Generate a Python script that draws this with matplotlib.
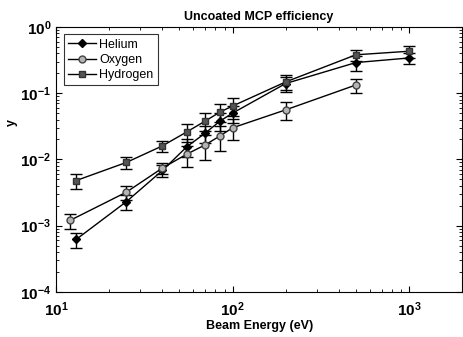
import numpy as np
import matplotlib
matplotlib.use("Agg")
import matplotlib.pyplot as plt

# beam energy (eV) and efficiency values
energy_he = [13, 25, 40, 55, 70, 85, 100, 200, 500, 1000]
eff_he = [0.00062, 0.0023, 0.0068, 0.0155, 0.025, 0.038, 0.050, 0.140, 0.29, 0.34]
err_he = [0.25, 0.25, 0.2, 0.3, 0.3, 0.3, 0.3, 0.25, 0.25, 0.2]

energy_o = [12, 25, 40, 55, 70, 85, 100, 200, 500]
eff_o = [0.0012, 0.0032, 0.0074, 0.012, 0.0166, 0.0227, 0.030, 0.056, 0.133]
err_o = [0.25, 0.25, 0.2, 0.35, 0.4, 0.4, 0.35, 0.3, 0.25]

energy_h = [13, 25, 40, 55, 70, 85, 100, 200, 500, 1000]
eff_h = [0.0048, 0.0090, 0.016, 0.026, 0.038, 0.052, 0.064, 0.148, 0.38, 0.43]
err_h = [0.25, 0.2, 0.2, 0.3, 0.3, 0.3, 0.3, 0.25, 0.2, 0.2]

plt.rcParams['font.family'] = ['Liberation Sans', 'DejaVu Sans']
plt.rcParams['font.weight'] = 'bold'

fig = plt.figure(figsize=(4.64, 3.37), dpi=100)
ax = fig.add_axes([0.121, 0.134, 0.875, 0.786])

series = [
    ("Helium", energy_he, eff_he, err_he, dict(marker='D', ms=4, mfc='black', mec='black')),
    ("Oxygen", energy_o, eff_o, err_o, dict(marker='o', ms=5, mfc='#b4b4b4', mec='#444444')),
    ("Hydrogen", energy_h, eff_h, err_h, dict(marker='s', ms=4.5, mfc='#555555', mec='#333333')),
]
handles = []
for name, x, y, e, style in series:
    y = np.array(y)
    cont = ax.errorbar(x, y, yerr=y * np.array(e), color='black', lw=1.0,
                       elinewidth=1.0, capsize=4.5, capthick=1.0, label=name, **style)
    handles.append(cont[0])

ax.set_xscale('log')
ax.set_yscale('log')
ax.set_xlim(10, 2000)
ax.set_ylim(1e-4, 1)
ax.tick_params(which='both', direction='in', top=True, right=True, labelsize=11)
ax.tick_params(axis='x', which='major', pad=6)
ax.tick_params(which='major', length=4)
ax.tick_params(which='minor', length=2)
for s in ax.spines.values():
    s.set_linewidth(0.8)

ax.set_title("Uncoated MCP efficiency", fontsize=9, fontweight='bold', pad=5)
ax.set_xlabel("Beam Energy (eV)", fontsize=9, fontweight='bold', labelpad=1)
ax.set_ylabel("y", fontsize=9, fontweight='bold')
ax.yaxis.set_label_coords(-0.095, 0.64)

leg = ax.legend(handles, [s[0] for s in series], loc='upper left',
                prop={'size': 9, 'weight': 'normal'},
                fancybox=False, edgecolor='black', handlelength=2.2, borderpad=0.35,
                labelspacing=0.25, handletextpad=0.3, borderaxespad=0.6)
leg.get_frame().set_linewidth(0.8)

fig.savefig("out.png")
